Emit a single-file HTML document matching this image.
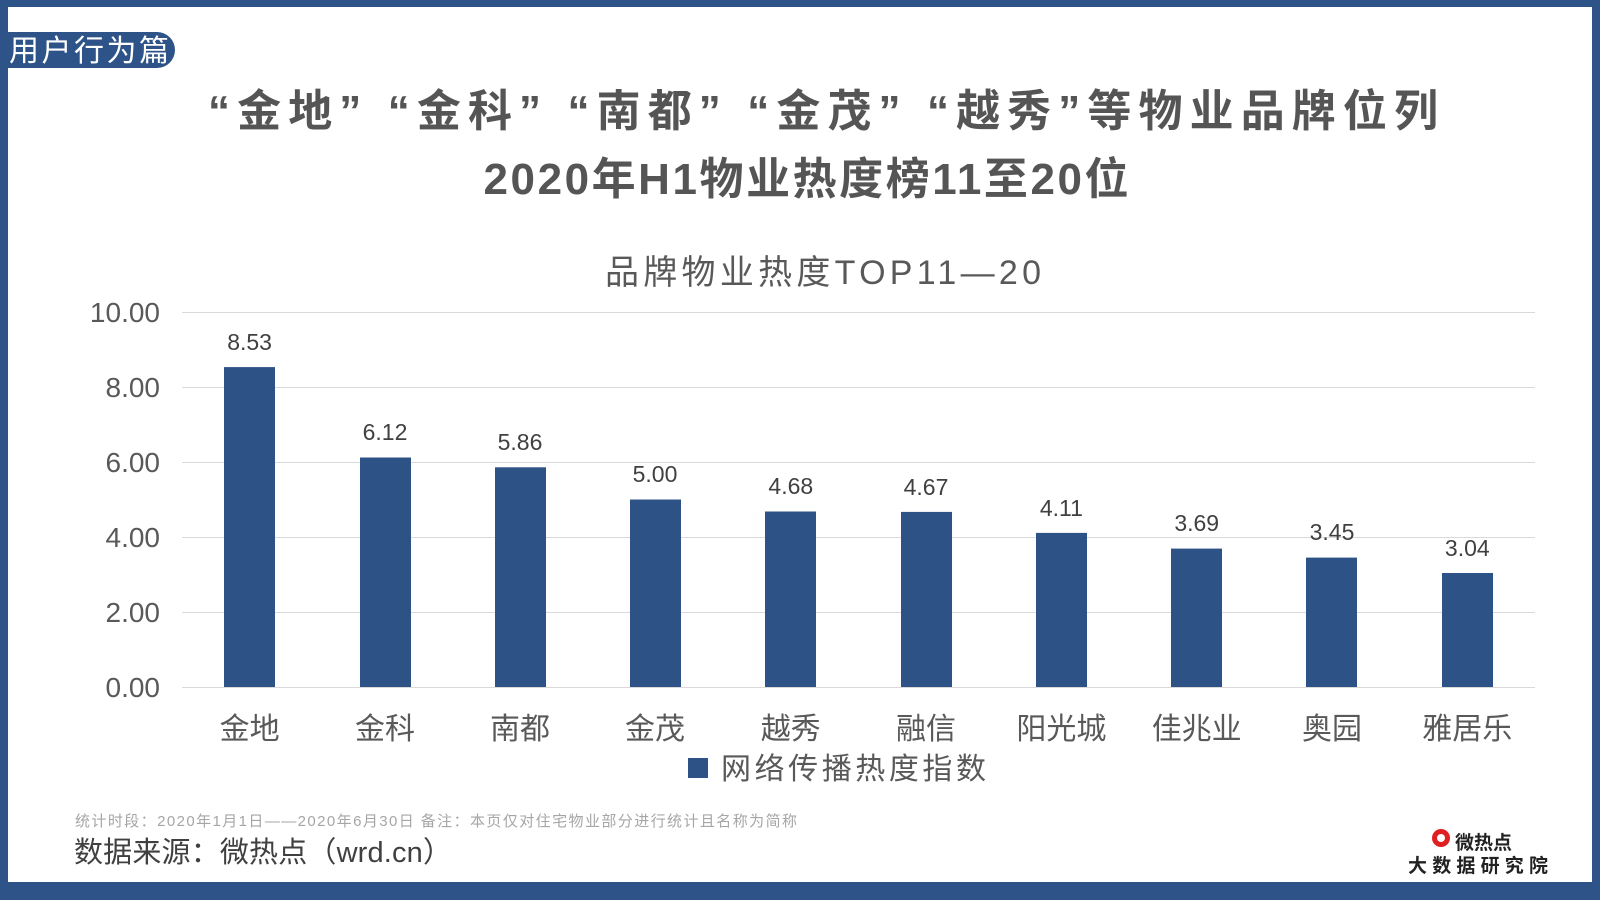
<!DOCTYPE html>
<html><head><meta charset="utf-8"><style>
html,body{margin:0;padding:0;background:#fff;}
svg{display:block;}
text{font-family:"Liberation Sans","Noto Sans CJK SC",sans-serif;}
</style></head><body>
<svg width="1600" height="900" viewBox="0 0 1600 900" xmlns="http://www.w3.org/2000/svg">
<rect x="0" y="0" width="1600" height="900" fill="#2d5388"/>
<rect x="8" y="7" width="1584" height="875" fill="#fff"/>
<!-- tab -->
<path d="M8 32 H157 A18 18 0 0 1 157 68 H8 Z" fill="#2d5388"/>
<text x="9" y="61" font-size="30" fill="#fff" textLength="160">用户行为篇</text>
<!-- titles -->
<text x="823" y="126" font-size="44" font-weight="bold" fill="#555" text-anchor="middle" textLength="1230">“金地” “金科” “南都” “金茂” “越秀”等物业品牌位列</text>
<text x="806" y="194" font-size="44" font-weight="bold" fill="#555" text-anchor="middle" textLength="645">2020年H1物业热度榜11至20位</text>
<text x="823" y="284" font-size="34" fill="#595959" text-anchor="middle" textLength="436">品牌物业热度TOP11—20</text>
<!-- grid -->
<g stroke="#d9d9d9" stroke-width="1">
<line x1="182" y1="312.5" x2="1535" y2="312.5"/>
<line x1="182" y1="387.5" x2="1535" y2="387.5"/>
<line x1="182" y1="462.5" x2="1535" y2="462.5"/>
<line x1="182" y1="537.5" x2="1535" y2="537.5"/>
<line x1="182" y1="612.5" x2="1535" y2="612.5"/>
<line x1="182" y1="687.5" x2="1535" y2="687.5"/>
</g>
<g font-size="28" fill="#595959" text-anchor="end">
<text x="160" y="322">10.00</text>
<text x="160" y="397">8.00</text>
<text x="160" y="472">6.00</text>
<text x="160" y="547">4.00</text>
<text x="160" y="622">2.00</text>
<text x="160" y="697">0.00</text>
</g>
<g fill="#2d5286">
<rect x="224" y="367.1" width="51" height="319.9"/>
<rect x="360" y="457.5" width="51" height="229.5"/>
<rect x="495" y="467.3" width="51" height="219.7"/>
<rect x="630" y="499.5" width="51" height="187.5"/>
<rect x="765" y="511.5" width="51" height="175.5"/>
<rect x="901" y="511.9" width="51" height="175.1"/>
<rect x="1036" y="532.9" width="51" height="154.1"/>
<rect x="1171" y="548.6" width="51" height="138.4"/>
<rect x="1306" y="557.6" width="51" height="129.4"/>
<rect x="1442" y="573" width="51" height="114"/>
</g>
<g font-size="23" fill="#404040" text-anchor="middle">
<text x="249.6" y="350">8.53</text>
<text x="385" y="440">6.12</text>
<text x="520" y="450">5.86</text>
<text x="655" y="482">5.00</text>
<text x="790.8" y="494">4.68</text>
<text x="926" y="495">4.67</text>
<text x="1061.4" y="516">4.11</text>
<text x="1196.7" y="531">3.69</text>
<text x="1332" y="540">3.45</text>
<text x="1467.3" y="556">3.04</text>
</g>
<g font-size="30" fill="#595959" text-anchor="middle">
<text x="249.6" y="739">金地</text>
<text x="385" y="739">金科</text>
<text x="520" y="739">南都</text>
<text x="655" y="739">金茂</text>
<text x="790.8" y="739">越秀</text>
<text x="926" y="739">融信</text>
<text x="1061.4" y="739">阳光城</text>
<text x="1196.7" y="739">佳兆业</text>
<text x="1332" y="739">奥园</text>
<text x="1467.3" y="739">雅居乐</text>
</g>
<rect x="688" y="758" width="20" height="20" fill="#2d5286"/>
<text x="721" y="779" font-size="30" fill="#595959" textLength="265">网络传播热度指数</text>
<text x="75" y="826" font-size="15" fill="#a6a6a6" textLength="722">统计时段：2020年1月1日——2020年6月30日  备注：本页仅对住宅物业部分进行统计且名称为简称</text>
<text x="74" y="862" font-size="29" fill="#404040" textLength="378">数据来源：微热点（wrd.cn）</text>
<!-- logo -->
<circle cx="1441" cy="838" r="9" fill="#e02020"/>
<circle cx="1441" cy="838" r="4" fill="#fff"/>
<text x="1455" y="849" font-size="19" font-weight="bold" fill="#222">微热点</text>
<text x="1408" y="872" font-size="19" font-weight="bold" fill="#222" textLength="140">大数据研究院</text>
</svg>
</body></html>
